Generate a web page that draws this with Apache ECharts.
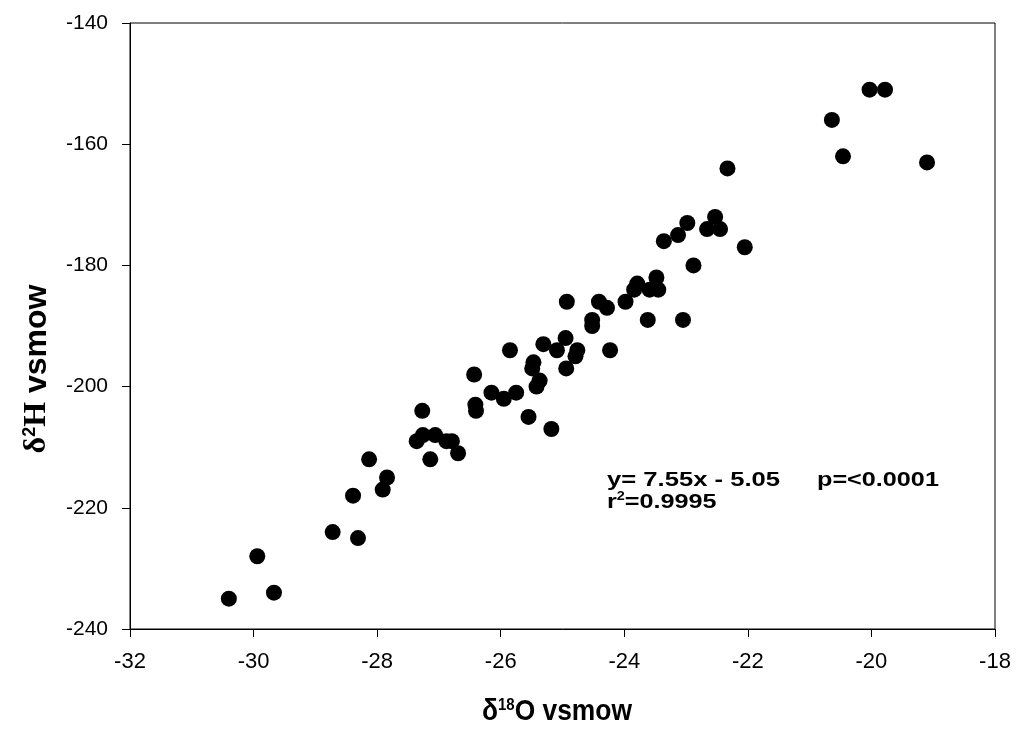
<!DOCTYPE html>
<html>
<head>
<meta charset="utf-8">
<script src="https://cdn.jsdelivr.net/npm/echarts@6/dist/echarts.min.js"></script>
<style>
html,body{margin:0;padding:0;background:#fff;}
#chart{width:1019px;height:745px;}
</style>
</head>
<body>
<div id="chart"></div>
<script>
// δ18O (x) values
var d18O = [
  -30.40, -29.94, -29.67, -28.72, -28.31, -28.39, -28.13, -27.91, -27.84, -27.27,
  -27.36, -27.26, -27.06, -26.88, -26.79, -27.14, -26.69, -26.43, -26.41, -26.40,
  -26.15, -25.95, -25.75, -25.85, -25.55, -25.47, -25.49, -25.37, -25.42, -25.31,
  -25.18, -25.09, -24.95, -24.76, -24.79, -24.94, -24.93, -24.52, -24.52, -24.41,
  -24.28, -24.23, -23.98, -23.79, -23.84, -23.59, -23.45, -23.48, -23.62, -23.36,
  -23.13, -22.98, -22.88, -23.05, -22.66, -22.45, -22.53, -22.33, -22.05, -20.64,
  -20.46, -20.03, -19.78, -19.10
];
// δ2H (y) values
var d2H = [
  -235, -228, -234, -224, -225, -218, -212, -217, -215, -204,
  -209, -208, -208, -209, -209, -212, -211, -198, -203, -204,
  -201, -202, -201, -194, -205, -196, -197, -199, -200, -193,
  -207, -194, -192, -194, -195, -197, -186, -189, -190, -186,
  -187, -194, -186, -183, -184, -184, -184, -182, -189, -176,
  -175, -173, -180, -189, -174, -174, -172, -164, -177, -156,
  -162, -151, -151, -163
];
var xTicks = [-32, -30, -28, -26, -24, -22, -20, -18];
var yTicks = [-240, -220, -200, -180, -160, -140];
var eqText = 'y= 7.55x - 5.05';
var pText = 'p=<0.0001';
var r2Value = '0.9995';

var points = d18O.map(function (x, i) { return [x, d2H[i]]; });

var chart = echarts.init(document.getElementById('chart'));
var font = '"Liberation Sans", Arial, sans-serif';
var serif = '"Liberation Serif", "Times New Roman", serif';
chart.setOption({
  animation: false,
  backgroundColor: '#fff',
  grid: { left: 130, right: 24, top: 23, bottom: 116, show: true, borderColor: '#000', borderWidth: 1 },
  xAxis: {
    type: 'value', min: xTicks[0], max: xTicks[xTicks.length - 1], interval: 2,
    axisLine: { onZero: false, lineStyle: { color: '#000', width: 1 } },
    axisTick: { show: true, inside: false, length: 8, lineStyle: { color: '#000' } },
    splitLine: { show: false },
    axisLabel: { color: '#000', fontFamily: font, fontSize: 22, margin: 22 }
  },
  yAxis: {
    type: 'value', min: yTicks[0], max: yTicks[yTicks.length - 1], interval: 20,
    axisLine: { onZero: false, lineStyle: { color: '#000', width: 1 } },
    axisTick: { show: true, inside: false, length: 8, lineStyle: { color: '#000' } },
    splitLine: { show: false },
    axisLabel: { color: '#000', fontFamily: font, fontSize: 21, margin: 22 }
  },
  series: [{
    type: 'scatter',
    data: points,
    symbol: 'circle',
    symbolSize: 16,
    itemStyle: { color: '#000', opacity: 1 }
  }],
  graphic: [
    {
      type: 'text', x: 557, y: 712, scaleX: 0.88,
      style: {
        text: '{d|δ}{s|18}{b|O vsmow}',
        align: 'center', verticalAlign: 'middle', fill: '#000',
        rich: {
          d: { font: 'bold 30px ' + font, fill: '#000' },
          s: { font: 'bold 17px ' + font, fill: '#000', verticalAlign: 'top', padding: [0, 0, 14, 0] },
          b: { font: 'bold 30px ' + font, fill: '#000' }
        }
      }
    },
    {
      type: 'text', x: 37, y: 369, rotation: Math.PI / 2,
      style: {
        text: '{d|δ}{s|2}{h|H}{b| vsmow}',
        align: 'center', verticalAlign: 'middle', fill: '#000',
        rich: {
          d: { font: 'bold 32px ' + serif, fill: '#000' },
          s: { font: 'bold 18px ' + font, fill: '#000', verticalAlign: 'top', padding: [0, 0, 14, 0] },
          h: { font: 'bold 32px ' + serif, fill: '#000' },
          b: { font: 'bold 32px ' + font, fill: '#000' }
        }
      }
    },
    {
      type: 'text', x: 607, y: 480, scaleX: 1.22,
      style: { text: eqText, font: 'bold 21px ' + font, fill: '#000', align: 'left', verticalAlign: 'middle' }
    },
    {
      type: 'text', x: 817, y: 480, scaleX: 1.2,
      style: { text: pText, font: 'bold 21px ' + font, fill: '#000', align: 'left', verticalAlign: 'middle' }
    },
    {
      type: 'text', x: 607, y: 502, scaleX: 1.2,
      style: {
        text: '{r|r}{s|2}{r|=' + r2Value + '}',
        align: 'left', verticalAlign: 'middle', fill: '#000',
        rich: {
          r: { font: 'bold 21px ' + font, fill: '#000' },
          s: { font: 'bold 12px ' + font, fill: '#000', verticalAlign: 'top', padding: [0, 0, 10, 0] }
        }
      }
    }
  ]
});
</script>
</body>
</html>
